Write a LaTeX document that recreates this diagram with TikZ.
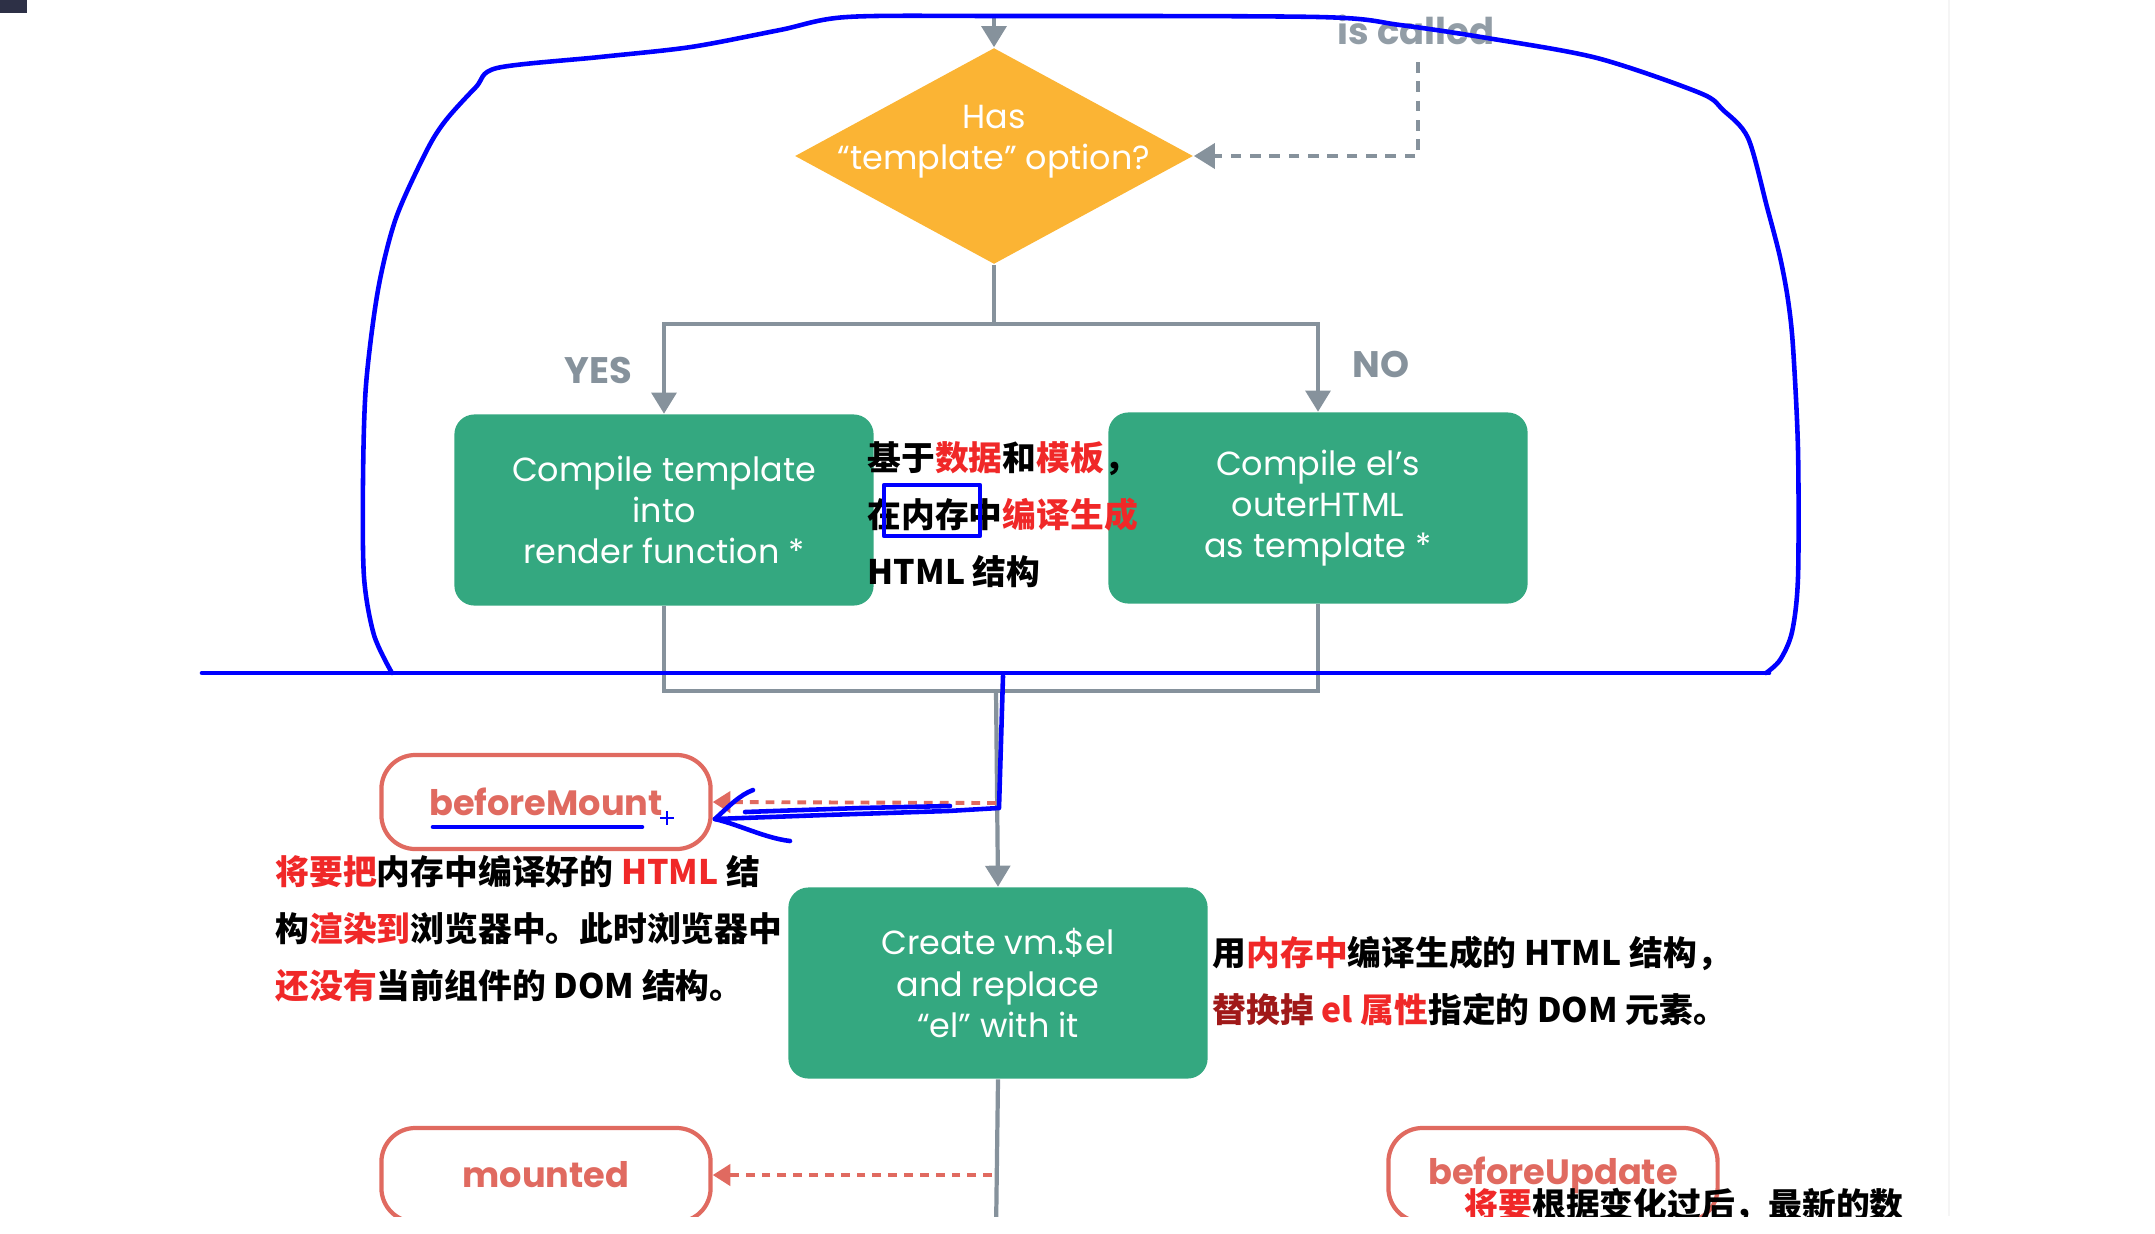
\documentclass[tikz,border=0pt]{standalone}
\usepackage{fontspec}
\setmainfont{Poppins}
\newfontfamily\cjk{Noto Sans CJK SC}
\usetikzlibrary{shapes.geometric,arrows.meta}

\definecolor{vgreen}{RGB}{52,168,128}
\definecolor{vorange}{RGB}{251,180,52}
\definecolor{vgray}{RGB}{134,146,156}
\definecolor{vred}{RGB}{224,106,96}
\definecolor{cred}{RGB}{240,40,40}
\definecolor{cdark}{RGB}{160,25,25}
\definecolor{inkblue}{RGB}{0,0,255}
\definecolor{navy}{RGB}{45,48,70}

\begin{document}
\begin{tikzpicture}[x=0.01cm,y=-0.01cm,
	greenbox/.style={rectangle, rounded corners=0.2cm, fill=vgreen, minimum width=4.19cm, minimum height=1.91cm, text=white, align=center, font=\fontsize{9.5}{11.7}\selectfont},
	hookbox/.style={rectangle, rounded corners=0.34cm, draw=vred, line width=1.2pt, fill=white, minimum width=3.29cm, minimum height=0.94cm, text=vred, font=\fontsize{10}{12}\selectfont\bfseries},
	flow/.style={vgray, line width=1.2pt, -{Triangle[width=7pt,length=6pt]}},
	plain/.style={vgray, line width=1.2pt},
	hookarrow/.style={vred, line width=1.1pt, dash pattern=on 2.5pt off 2pt, -{Triangle[width=6pt,length=5pt]}},
	note/.style={font=\cjk\fontsize{9.6}{16.2}\selectfont\bfseries, align=left, anchor=west, inner xsep=0},
	ink/.style={inkblue, line width=1.3pt, line cap=round, line join=round}
]
	\useasboundingbox (0,0) rectangle (2155,1233);
	\begin{scope}
	\clip (0,0) rectangle (2155,1216);

	%screen
	\fill[navy] (0,0) rectangle (27,13);
	\draw[gray!8, line width=0.8pt] (1949,0) -- (1949,1216);

	%shapes
	\node[diamond, fill=vorange, minimum width=3.98cm, minimum height=2.16cm, inner sep=0] (has) at (994,156) {};
	\node[text=white, align=center, font=\fontsize{9.5}{11.7}\selectfont] (hastext) at (994,142) {Has\\“template” option?};
	\node[greenbox] (ctpl) at (664,510) {Compile template\\into\\render function *};
	\node[greenbox] (cel) at (1318,508) {Compile el’s\\outerHTML\\as template *};
	\node[greenbox] (create) at (998,983) {Create vm.\$el\\and replace\\“el” with it};
	\node[hookbox] (bm) at (546,802) {beforeMount};
	\node[hookbox] (mtd) at (546,1175) {mounted};
	\node[hookbox] (bu) at (1553,1175) {beforeUpdate};

	%labels
	\node[text=vgray!90, font=\fontsize{10.5}{12}\selectfont\bfseries] (called) at (1416,30) {is called};
	\node[text=vgray, font=\fontsize{10.5}{12}\selectfont\bfseries] (yes) at (598,370) {YES};
	\node[text=vgray, font=\fontsize{10.5}{12}\selectfont\bfseries] (no) at (1381,364) {NO};

	%lines
	\coordinate (in) at (994,16);
	\coordinate (call) at (1418,62);
	\coordinate (split) at (994,324);
	\coordinate (jn) at (996,691);
	\draw[flow] (in) -- (has.north);
	\draw[vgray, line width=1.4pt, dash pattern=on 3pt off 2.5pt, -{Triangle[width=7pt,length=6pt]}] (call) |- (has.east);
	\draw[plain] (has.south) -- (split);
	\draw[flow] (split) -| (ctpl.north);
	\draw[flow] (split) -| (cel.north);
	\draw[plain] (ctpl.south) -- (ctpl.south |- jn) -- (cel.south |- jn) -- (cel.south);
	\draw[flow] (jn) -- (create.north);
	\draw[plain] (create.south) -- (996,1233);
	\draw[hookarrow] (996,803) -- (bm.east);
	\draw[hookarrow] (992,1175) -- (mtd.east);

	%notes
	\node[note] (mid) at (867,515) {基于\textcolor{cred}{数据}和\textcolor{cred}{模板}，\\在内存中\textcolor{cred}{编译生成}\\HTML 结构};
	\node[note] (left) at (275,929) {\textcolor{cred}{将要把}内存中编译好的 \textcolor{cred}{HTML} 结\\构\textcolor{cred}{渲染到}浏览器中。此时浏览器中\\\textcolor{cred}{还没有}当前组件的 DOM 结构。};
	\node[note] (right) at (1212,981) {用\textcolor{cred}{内存中}编译生成的 HTML 结构，\\\textcolor{cdark}{替换掉} \textcolor{cred}{el 属性}指定的 DOM 元素。};
	\node[note] (bunote) at (1464,1205) {\textcolor{cred}{将要}根据变化过后，最新的数};

	%ink
	\draw[ink] plot[smooth, tension=0.5] coordinates {(1766,673) (1780,660) (1792,632) (1798,577) (1798,450) (1793,347) (1788,300) (1780,257) (1767,207) (1748,138) (1723,110) (1700,93) (1597,58) (1487,38) (1400,25) (1318,17) (1000,16) (847,17) (780,30) (691,47) (600,57) (497,68) (476,87) (446,120) (427,150) (396,218) (378,290) (366,385) (363,481) (364,577) (374,635) (392,673)};
	\draw[ink] (202,673) -- (1769,673);
	\draw[ink] (884,485) rectangle (980,536);
	\draw[ink] (1003,676) -- (999,808) -- (948,811) -- (825,815) -- (715,819);
	\draw[ink] (745,812) -- (860,808) -- (950,806);
	\draw[ink] (715,819) .. controls (730,805) and (740,795) .. (753,790);
	\draw[ink] (715,819) .. controls (740,825) and (765,838) .. (790,841);
	\draw[ink] (433,827) -- (642,827);
	\draw[inkblue, line width=0.8pt] (660,818) -- (674,818) (667,811) -- (667,825);
	\end{scope}
\end{tikzpicture}
\end{document}
